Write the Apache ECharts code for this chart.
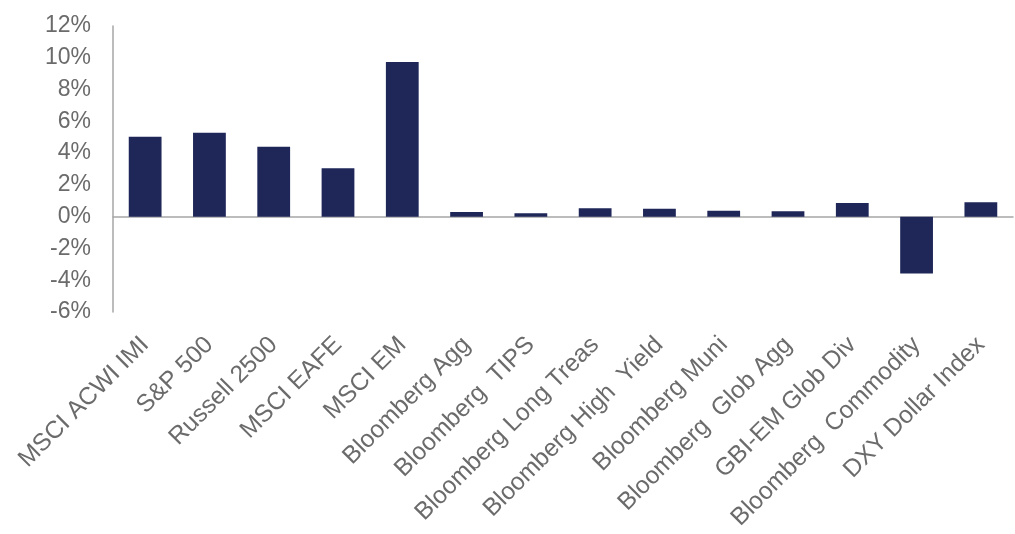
<!DOCTYPE html>
<html>
<head>
<meta charset="utf-8">
<script src="https://cdn.jsdelivr.net/npm/echarts@6/dist/echarts.min.js"></script>
<style>
  html, body { margin: 0; padding: 0; background: #fff; }
  #chart { width: 1015px; height: 534px; }
</style>
</head>
<body>
<div id="chart"></div>
<script>
const categories = [
  'MSCI ACWI IMI', 'S&P 500', 'Russell 2500', 'MSCI EAFE', 'MSCI EM',
  'Bloomberg Agg', 'Bloomberg  TIPS', 'Bloomberg Long Treas', 'Bloomberg High  Yield',
  'Bloomberg Muni', 'Bloomberg  Glob Agg', 'GBI-EM Glob Div', 'Bloomberg  Commodity',
  'DXY Dollar Index'
]
const returns = [5.03, 5.28, 4.4, 3.05, 9.74, 0.3, 0.21, 0.53, 0.5, 0.38, 0.34, 0.86, -3.57, 0.91]
const yMin = -6
const yMax = 12
const yStep = 2

const chart = echarts.init(document.getElementById('chart'))

chart.setOption({
  animation: false,
  grid: { left: 113, right: 2, top: 26, bottom: 222 },
  xAxis: {
    type: 'category',
    data: categories,
    axisLine: { onZero: true, lineStyle: { color: '#a6a6a6', width: 1.5 } },
    axisTick: { show: false },
    axisLabel: {
      interval: 0,
      rotate: 45,
      margin: 29,
      color: '#6b6b6b',
      fontSize: 24.5,
      fontFamily: 'Liberation Sans, Arial, sans-serif'
    }
  },
  yAxis: {
    type: 'value',
    min: yMin,
    max: yMax,
    interval: yStep,
    axisLine: { show: true, lineStyle: { color: '#a6a6a6', width: 1.5 } },
    axisTick: { show: false },
    splitLine: { show: false },
    axisLabel: {
      margin: 22,
      color: '#6b6b6b',
      fontSize: 23,
      fontFamily: 'Liberation Sans, Arial, sans-serif',
      formatter: (v) => v + '%'
    }
  },
  series: [{
    type: 'bar',
    data: returns,
    barWidth: '51%',
    itemStyle: { color: '#1f2759' }
  }]
})
</script>
</body>
</html>
